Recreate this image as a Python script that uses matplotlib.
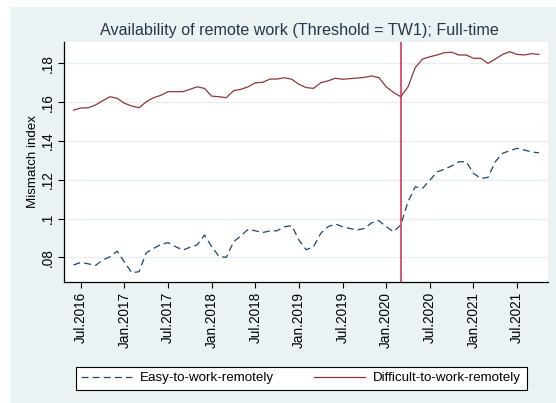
import numpy as np
import matplotlib
matplotlib.use('Agg')
import matplotlib.pyplot as plt
from matplotlib.patches import Rectangle
from matplotlib.lines import Line2D

plt.rcParams['font.family'] = ['Liberation Sans', 'DejaVu Sans']
plt.rcParams['lines.scale_dashes'] = False

# months since Jul.2016 (first obs Jun.2016, last Oct.2021)
months = np.arange(-1, 64)

easy = [0.0761, 0.0774, 0.0767, 0.0758, 0.0786, 0.0803, 0.0832, 0.0775, 0.0721, 0.0726,
        0.0824, 0.0846, 0.0867, 0.0876, 0.0856, 0.0837, 0.0852, 0.0864, 0.0915, 0.0855,
        0.0805, 0.0800, 0.0880, 0.0911, 0.0944, 0.0937, 0.0928, 0.0936, 0.0937, 0.0958,
        0.0963, 0.0889, 0.0839, 0.0855, 0.0924, 0.0958, 0.0972, 0.0958, 0.0949, 0.0941,
        0.0949, 0.0978, 0.0989, 0.0958, 0.0932, 0.0967, 0.1087, 0.1164, 0.1156, 0.1198,
        0.1241, 0.1254, 0.1271, 0.1293, 0.1293, 0.1233, 0.1207, 0.1212, 0.1293, 0.1336,
        0.1350, 0.1362, 0.1353, 0.1343, 0.1339]

difficult = [0.1559, 0.1570, 0.1571, 0.1585, 0.1607, 0.1628, 0.1620, 0.1594, 0.1580, 0.1571,
             0.1602, 0.1623, 0.1635, 0.1654, 0.1654, 0.1654, 0.1666, 0.1679, 0.1671, 0.1631,
             0.1628, 0.1623, 0.1659, 0.1666, 0.1679, 0.1700, 0.1702, 0.1719, 0.1719, 0.1726,
             0.1718, 0.1692, 0.1675, 0.1671, 0.1700, 0.1710, 0.1723, 0.1718, 0.1721, 0.1724,
             0.1728, 0.1735, 0.1726, 0.1679, 0.1650, 0.1628, 0.1679, 0.1779, 0.1822, 0.1834,
             0.1843, 0.1855, 0.1857, 0.1843, 0.1843, 0.1826, 0.1826, 0.1800, 0.1822, 0.1846,
             0.1860, 0.1846, 0.1843, 0.1850, 0.1846]

covid_month = 44  # Mar.2020

xtick_pos = [0, 6, 12, 18, 24, 30, 36, 42, 48, 54, 60]
xtick_labels = ['Jul.2016', 'Jan.2017', 'Jul.2017', 'Jan.2018', 'Jul.2018', 'Jan.2019',
                'Jul.2019', 'Jan.2020', 'Jul.2020', 'Jan.2021', 'Jul.2021']
ytick_pos = [0.08, 0.10, 0.12, 0.14, 0.16, 0.18]
ytick_labels = ['.08', '.1', '.12', '.14', '.16', '.18']

W, H = 556, 403
fig = plt.figure(figsize=(W / 100, H / 100), dpi=100)
fig.patches.append(Rectangle((10 / W, 0), 1, 1 - 7 / H, transform=fig.transFigure,
                             facecolor='#EAF2F3', edgecolor='none', zorder=-10))

ax = fig.add_axes([64 / W, 1 - 282 / H, 484 / W, 240 / H])
ax.set_facecolor('white')

ax.plot(months, easy, color='#1A476F', lw=0.9, dashes=(5, 3), label='Easy-to-work-remotely')
ax.plot(months, difficult, color='#90353B', lw=0.9, label='Difficult-to-work-remotely')
ax.axvline(covid_month, color='#D7264F', lw=1.1)

ax.set_xlim(-2.32, 64.25)
ax.set_ylim(0.0673, 0.191)
ax.set_xticks(xtick_pos)
ax.set_xticklabels(xtick_labels, rotation=90, fontsize=9.8)
ax.set_yticks(ytick_pos)
ax.set_yticklabels(ytick_labels, rotation=90, va='center', fontsize=9.8)
ax.tick_params(length=4, width=0.8, color='black', pad=3)
ax.grid(axis='y', color='#E6EEF0', lw=1)
ax.set_axisbelow(True)
for s in ['top', 'right']:
    ax.spines[s].set_visible(False)
for s in ['left', 'bottom']:
    ax.spines[s].set_linewidth(0.9)

fig.text(33 / W, 1 - 162 / H, 'Mismatch index', rotation=90, ha='center', va='center',
         fontsize=9.6)
fig.text(299 / W, 1 - 30 / H, 'Availability of remote work (Threshold = TW1); Full-time',
         ha='center', va='center', fontsize=11.6, color='#26364A')

handles = [Line2D([], [], color='#1A476F', lw=0.9, dashes=(5, 3)),
           Line2D([], [], color='#90353B', lw=0.9)]
leg = fig.legend(handles, ['Easy-to-work-remotely', 'Difficult-to-work-remotely'],
                 loc='center', bbox_to_anchor=(75.5 / W, 1 - 391 / H, 451 / W, 26 / H),
                 mode='expand', ncol=2, fontsize=9.6, handlelength=3.8, handletextpad=0.65,
                 columnspacing=2.2, borderaxespad=0, fancybox=False, framealpha=1,
                 edgecolor='black')
leg.get_frame().set_linewidth(0.8)

fig.savefig('out.png', dpi=100)
